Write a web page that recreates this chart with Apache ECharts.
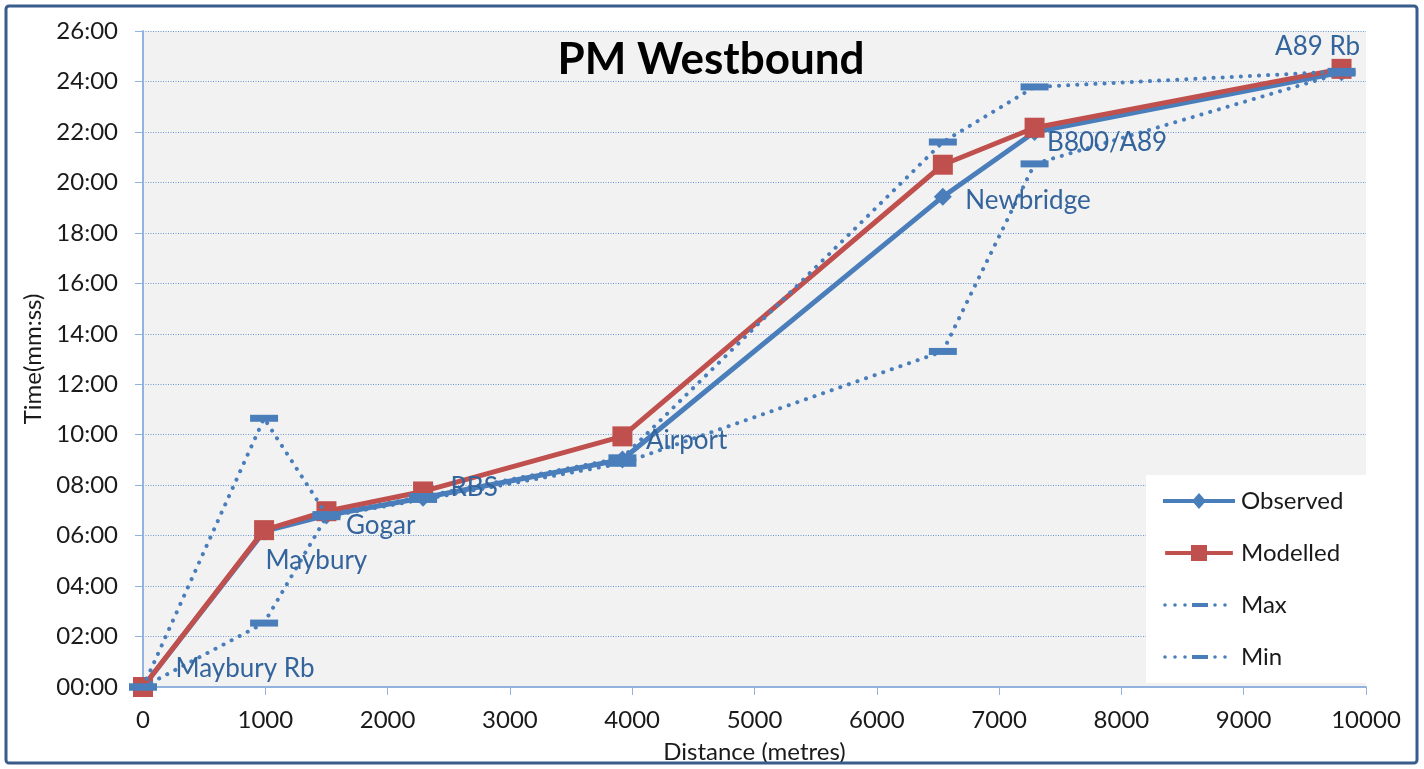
<!DOCTYPE html>
<html>
<head>
<meta charset="utf-8">
<script src="https://cdn.jsdelivr.net/npm/echarts@6/dist/echarts.min.js"></script>
<style>
  html, body { margin: 0; padding: 0; background: #ffffff; }
  #chart { width: 1424px; height: 769px; }
</style>
</head>
<body>
<div id="chart"></div>
<script>
// Junction names along the route and their distance from the start (metres)
const junctions = ['Maybury Rb', 'Maybury', 'Gogar', 'RBS', 'Airport', 'Newbridge', 'B800/A89', 'A89 Rb'];
const distances = [0, 990, 1500, 2290, 3920, 6540, 7290, 9800];

// Cumulative journey times (mm:ss)
const observed = ['00:00', '06:10', '06:48', '07:30', '09:01', '19:26', '22:00', '24:22'];
const modelled = ['00:00', '06:13', '06:58', '07:45', '09:56', '20:42', '22:10', '24:30'];
const maxTimes = ['00:00', '10:39', '06:50', '07:33', '09:05', '21:36', '23:47', '24:24'];
const minTimes = ['00:00', '02:32', '06:45', '07:26', '08:52', '13:18', '20:44', '24:20'];

// Y axis runs 00:00 .. 26:00 in 2-minute steps
const yMaxMinutes = 26;
const yStepMinutes = 2;

const FONT = 'Lato, "Open Sans", sans-serif';
const BLUE = '#4A7EBB';
const RED = '#C0504D';
const LABEL_BLUE = '#33649B';
const TEXT = '#1a1a1a';

function toSeconds(t) {
  const [m, s] = t.split(':').map(Number);
  return m * 60 + s;
}
function pad(n) { return (n < 10 ? '0' : '') + n; }
function fmt(sec) {
  return pad(Math.floor(sec / 60)) + ':' + pad(Math.round(sec % 60));
}
function pairs(times) {
  return distances.map((d, i) => [d, toSeconds(times[i])]);
}

// Where each junction name sits relative to its observed point
const labelOffsets = {
  'Maybury Rb': [27, -18],
  'Maybury': [-4, 29],
  'Gogar': [14, 10],
  'RBS': [22, -10],
  'Airport': [18, -19],
  'Newbridge': [17, 4],
  'B800/A89': [7, 11],
  'A89 Rb': [-72, -26]
};

// Legend icons: line with a marker in the middle, drawn in a 72 x 16 box
const box = 'M0,0h0.01v0.01h-0.01z M72,16h-0.01v-0.01h0.01z ';
const solidBar = 'M0,6h72v4h-72z ';
function dots(xs) {
  return xs.map(x => `M${x - 1.8},8a1.8,1.8 0 1,0 3.6,0a1.8,1.8 0 1,0 -3.6,0z `).join('');
}
const iconObserved = 'path://' + box + solidBar + 'M36,0L43,8L36,16L29,8z';
const iconModelled = 'path://' + box + solidBar + 'M27.5,-0.5h17v17h-17z';
const iconDash = 'path://' + box + dots([2, 12, 22, 52, 62]) + 'M29,6h16v4h-16z';

const dotted = { type: [0.1, 9], cap: 'round', width: 4, color: BLUE };

const chart = echarts.init(document.getElementById('chart'), null, { renderer: 'canvas' });

chart.setOption({
  backgroundColor: '#ffffff',
  animation: false,
  title: {
    text: 'PM Westbound',
    left: 706,
    textAlign: 'center',
    top: 33,
    textStyle: { fontFamily: FONT, fontSize: 44, fontWeight: 'bold', color: '#000000' }
  },
  graphic: [
    {
      type: 'rect',
      shape: { x: 6, y: 6, width: 1411, height: 757, r: 3 },
      style: { fill: 'none', stroke: '#385D8A', lineWidth: 3 },
      z: 10
    },
    {
      type: 'rect',
      shape: { x: 1146, y: 475, width: 220, height: 208 },
      style: { fill: '#ffffff' },
      z: 3
    }
  ],
  legend: {
    data: [
      { name: 'Observed', icon: iconObserved },
      { name: 'Modelled', icon: iconModelled },
      { name: 'Max', icon: iconDash },
      { name: 'Min', icon: iconDash }
    ],
    orient: 'vertical',
    left: 1163,
    top: 488,
    padding: 0,
    itemWidth: 72,
    itemHeight: 16,
    itemGap: 26,
    itemStyle: { borderWidth: 0 },
    textStyle: { fontFamily: FONT, fontSize: 24, color: TEXT, lineHeight: 26, padding: [0, 0, 0, 1] },
    z: 5
  },
  grid: {
    left: 143, right: 58, top: 31, bottom: 81,
    show: true, backgroundColor: '#F2F2F2', borderWidth: 0
  },
  xAxis: {
    type: 'value',
    min: 0, max: 10000, interval: 1000,
    name: 'Distance (metres)',
    nameLocation: 'middle',
    nameGap: 53,
    nameTextStyle: { fontFamily: FONT, fontSize: 24, color: TEXT },
    axisLine: { show: true, onZero: false, lineStyle: { color: '#92B3E0', width: 2 } },
    axisTick: { show: true, length: 8, lineStyle: { color: '#92B3E0' } },
    axisLabel: { fontFamily: FONT, fontSize: 24, color: TEXT, margin: 21, formatter: v => String(v) },
    splitLine: { show: false }
  },
  yAxis: {
    type: 'value',
    min: 0, max: yMaxMinutes * 60, interval: yStepMinutes * 60,
    name: 'Time(mm:ss)',
    nameLocation: 'middle',
    nameGap: 96,
    nameTextStyle: { fontFamily: FONT, fontSize: 24, color: TEXT },
    axisLine: { show: true, lineStyle: { color: '#92B3E0', width: 2 } },
    axisTick: { show: true, length: 8, lineStyle: { color: '#92B3E0' } },
    axisLabel: { fontFamily: FONT, fontSize: 24, color: TEXT, margin: 25, formatter: v => fmt(v) },
    splitLine: { show: true, lineStyle: { type: [1, 1.5], color: '#6E98D0', width: 1 } }
  },
  series: [
    {
      name: 'Observed',
      type: 'line',
      data: pairs(observed),
      symbol: 'diamond',
      symbolSize: 18,
      itemStyle: { color: BLUE },
      lineStyle: { color: BLUE, width: 5 },
      z: 2
    },
    {
      name: 'Modelled',
      type: 'line',
      data: pairs(modelled),
      symbol: 'rect',
      symbolSize: 20,
      itemStyle: { color: RED },
      lineStyle: { color: RED, width: 5 },
      z: 3
    },
    {
      name: 'Max',
      type: 'line',
      data: pairs(maxTimes),
      symbol: 'rect',
      symbolSize: [28, 7],
      itemStyle: { color: BLUE },
      lineStyle: dotted,
      z: 4
    },
    {
      name: 'Min',
      type: 'line',
      data: pairs(minTimes),
      symbol: 'rect',
      symbolSize: [28, 7],
      itemStyle: { color: BLUE },
      lineStyle: dotted,
      z: 4
    },
    {
      // junction names, attached to the observed points and drawn above the lines
      name: 'junctions',
      type: 'scatter',
      silent: true,
      symbolSize: 1,
      itemStyle: { color: 'rgba(0,0,0,0)', opacity: 1 },
      z: 6,
      data: pairs(observed).map((p, i) => ({
        value: p,
        label: {
          show: true,
          position: 'right',
          distance: 5,
          offset: labelOffsets[junctions[i]],
          formatter: junctions[i],
          color: LABEL_BLUE,
          opacity: 1,
          fontSize: 26,
          fontFamily: FONT
        }
      }))
    }
  ]
});
</script>
</body>
</html>
